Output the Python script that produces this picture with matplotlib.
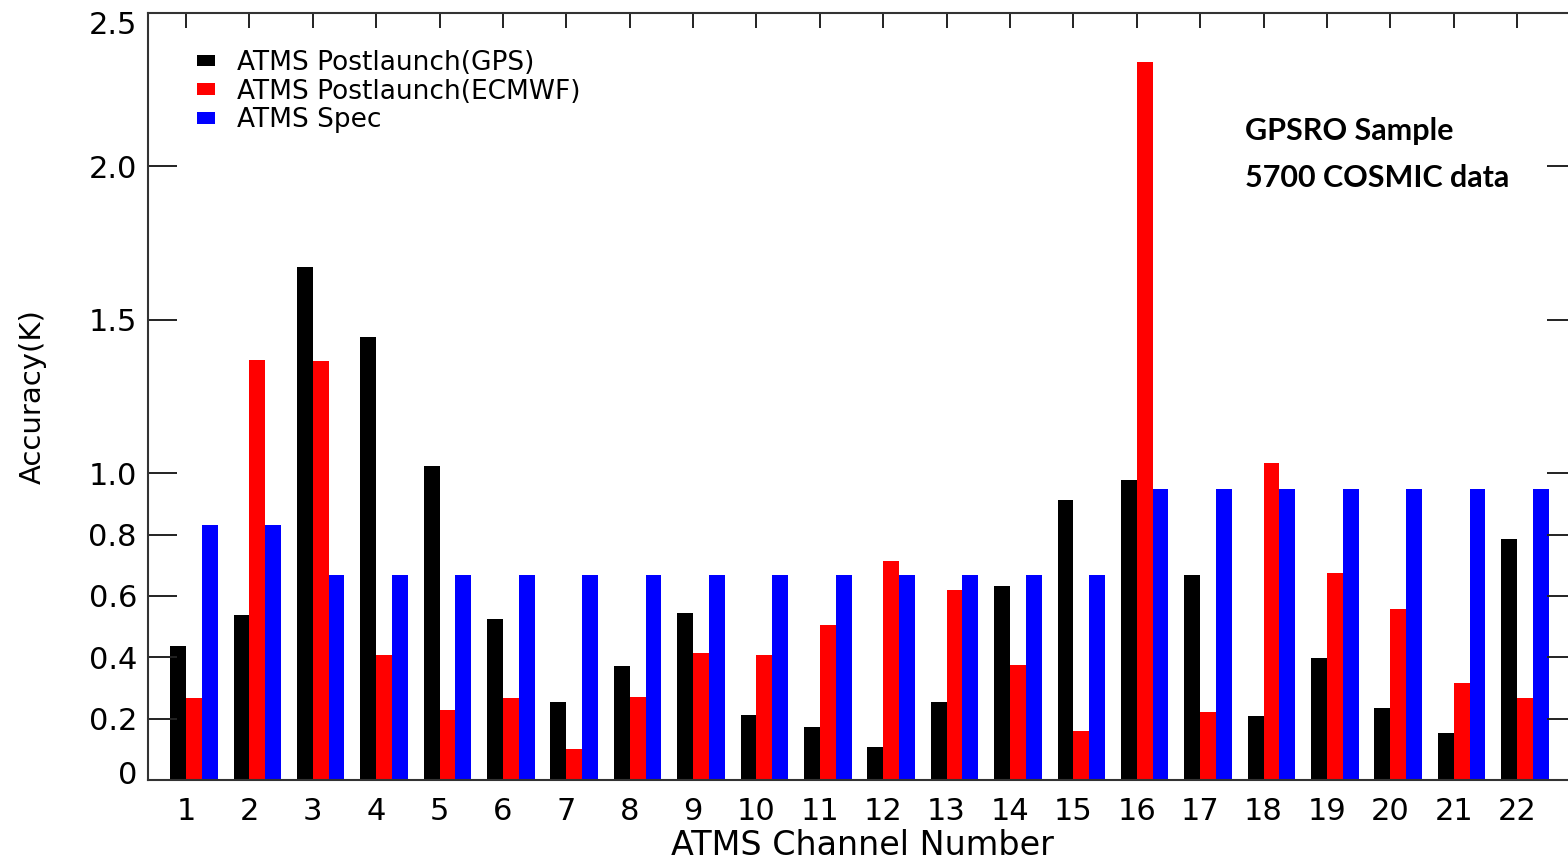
import matplotlib
matplotlib.use("Agg")
import matplotlib.pyplot as plt
from matplotlib.patches import Patch
from matplotlib.transforms import ScaledTranslation
import numpy as np

plt.rcParams["font.family"] = ["DejaVu Sans"]

channels = list(range(1, 23))
gps = [0.437, 0.538, 1.672, 1.444, 1.023, 0.525, 0.254, 0.372, 0.544, 0.212, 0.173,
       0.108, 0.254, 0.632, 0.913, 0.978, 0.668, 0.209, 0.398, 0.235, 0.153, 0.786]
ecmwf = [0.267, 1.369, 1.366, 0.407, 0.228, 0.267, 0.101, 0.270, 0.414, 0.407, 0.505,
         0.714, 0.619, 0.375, 0.160, 2.340, 0.222, 1.033, 0.675, 0.557, 0.316, 0.267]
spec = [0.831, 0.831, 0.668, 0.668, 0.668, 0.668, 0.668, 0.668, 0.668, 0.668, 0.668,
        0.668, 0.668, 0.668, 0.668, 0.948, 0.948, 0.948, 0.948, 0.948, 0.948, 0.948]
series_labels = ["ATMS Postlaunch(GPS)", "ATMS Postlaunch(ECMWF)", "ATMS Spec"]
series_colors = ["#000000", "#ff0000", "#0000ff"]
ytick_values = [0, 0.2, 0.4, 0.6, 0.8, 1.0, 1.5, 2.0, 2.5]
ytick_labels = ["0", "0.2", "0.4", "0.6", "0.8", "1.0", "1.5", "2.0", "2.5"]
note_lines = ["GPSRO Sample", "5700 COSMIC data"]

W, H = 1568, 859
fig = plt.figure(figsize=(W / 100, H / 100), dpi=100)
ax = fig.add_axes([148 / W, 1 - 780 / H, (1576 - 148) / W, (780 - 13) / H])

x = np.array(channels, dtype=float)
bw = 0.25
offsets = [-0.25, 0.0, 0.25]
for vals, off, col, lab in zip([gps, ecmwf, spec], offsets, series_colors, series_labels):
    ax.bar(x + off, vals, width=bw, align="edge", color=col, label=lab, linewidth=0)

ax.set_xlim(0.40, 22.93)
ax.set_ylim(0, 2.5)

ax.set_yticks(ytick_values)
ax.set_yticklabels(ytick_labels)
ax.set_xticks(channels)
ax.set_xticklabels([str(c) for c in channels])

for s in ax.spines.values():
    s.set_linewidth(1.5)
    s.set_color("#333333")

ax.tick_params(axis="y", which="major", direction="in", length=21, width=1.4,
               left=True, right=True, labelsize=22, pad=8, color="#222222")
ax.tick_params(axis="x", which="major", direction="in", length=11, width=1.4,
               bottom=False, top=True, labelsize=22, pad=12, color="#222222")

# nudge end labels inward as in the original
ylabs = ax.get_yticklabels()
ylabs[0].set_transform(ylabs[0].get_transform() + ScaledTranslation(0, 7 / 100, fig.dpi_scale_trans))
ylabs[-1].set_transform(ylabs[-1].get_transform() + ScaledTranslation(0, -9 / 100, fig.dpi_scale_trans))

ax.set_xlabel("ATMS Channel Number", fontsize=24, va="baseline")
ax.xaxis.set_label_coords(0.5, (780 - 855) / (780 - 13))
ax.set_ylabel("Accuracy(K)", fontsize=21, labelpad=30)

handles = [Patch(facecolor=c, edgecolor="none") for c in series_colors]
leg = ax.legend(handles, series_labels, loc="upper left",
                bbox_to_anchor=(197 / W, 1 - 50 / H), bbox_transform=fig.transFigure,
                frameon=False, fontsize=19, handlelength=0.7, handleheight=0.3,
                handletextpad=0.8, labelspacing=0.1, borderpad=0, borderaxespad=0)

fig.text(1245 / W, 1 - 140 / H, note_lines[0], fontsize=22, fontweight="bold",
         family=["Lato", "DejaVu Sans"], va="baseline", ha="left")
fig.text(1245 / W, 1 - 187 / H, note_lines[1], fontsize=22, fontweight="bold",
         family=["Lato", "DejaVu Sans"], va="baseline", ha="left")

fig.savefig("out.png", dpi=100)
